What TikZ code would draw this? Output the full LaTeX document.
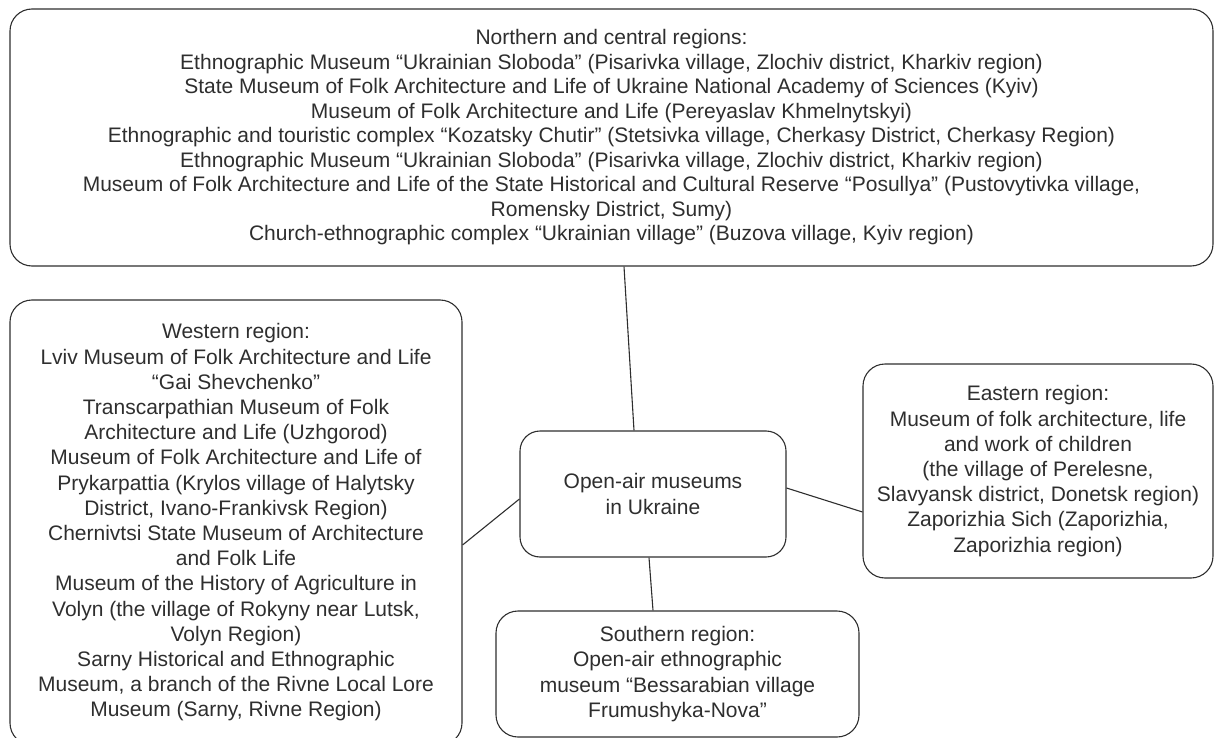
\documentclass[tikz,border=0pt]{standalone}
\usepackage{fontspec}
\setmainfont{Liberation Sans}
\usetikzlibrary{calc}
\begin{document}
\begin{tikzpicture}[x=1pt,y=-1pt,
  box/.style={draw=black!82, line width=1.1pt, rounded corners=22pt, align=center,
    inner sep=0pt, text=black!82, font=\fontsize{21}{25.2}\selectfont},
  link/.style={draw=black!82, line width=1.1pt}]
\useasboundingbox (0,0) rectangle (1215,738);
\node[box, minimum width=1203pt, minimum height=257pt, font=\fontsize{21}{24.5}\selectfont] (top) at (611.5,137.5) {Northern and central regions:\\
Ethnographic Museum “Ukrainian Sloboda” (Pisarivka village, Zlochiv district, Kharkiv region)\\
State Museum of Folk Architecture and Life of Ukraine National Academy of Sciences (Kyiv)\\
Museum of Folk Architecture and Life (Pereyaslav Khmelnytskyi)\\
Ethnographic and touristic complex “Kozatsky Chutir” (Stetsivka village, Cherkasy District, Cherkasy Region)\\
Ethnographic Museum “Ukrainian Sloboda” (Pisarivka village, Zlochiv district, Kharkiv region)\\
Museum of Folk Architecture and Life of the State Historical and Cultural Reserve “Posullya” (Pustovytivka village,\\
Romensky District, Sumy)\\
Church-ethnographic complex “Ukrainian village” (Buzova village, Kyiv region)};
\node[box, minimum width=452pt, minimum height=445pt] (west) at (236,522.5) {Western region:\\
Lviv Museum of Folk Architecture and Life\\
“Gai Shevchenko”\\
Transcarpathian Museum of Folk\\
Architecture and Life (Uzhgorod)\\
Museum of Folk Architecture and Life of\\
Prykarpattia (Krylos village of Halytsky\\
District, Ivano-Frankivsk Region)\\
Chernivtsi State Museum of Architecture\\
and Folk Life\\
Museum of the History of Agriculture in\\
Volyn (the village of Rokyny near Lutsk,\\
Volyn Region)\\
Sarny Historical and Ethnographic\\
Museum, a branch of the Rivne Local Lore\\
Museum (Sarny, Rivne Region)};
\node[box, rounded corners=20pt, minimum width=266pt, minimum height=126pt] (ctr) at (653,494) {Open-air museums\\in Ukraine};
\node[box, minimum width=350pt, minimum height=214pt] (east) at (1038,471) {Eastern region:\\
Museum of folk architecture, life\\
and work of children\\
(the village of Perelesne,\\
Slavyansk district, Donetsk region)\\
Zaporizhia Sich (Zaporizhia,\\
Zaporizhia region)};
\node[box, minimum width=363pt, minimum height=126pt] (south) at (677.5,674) {Southern region:\\
Open-air ethnographic\\
museum “Bessarabian village\\
Frumushyka-Nova”};
\draw[link] ($(top.south)+(12.5,0)$) -- ($(ctr.north)+(-19,0)$);
\draw[link] ($(ctr.west)+(0,5)$) -- ($(west.east)+(0,22.5)$);
\draw[link] ($(ctr.east)+(0,-6)$) -- ($(east.west)+(0,41)$);
\draw[link] ($(ctr.south)+(-4,0)$) -- ($(south.north)+(-24.5,0)$);
\end{tikzpicture}
\end{document}
